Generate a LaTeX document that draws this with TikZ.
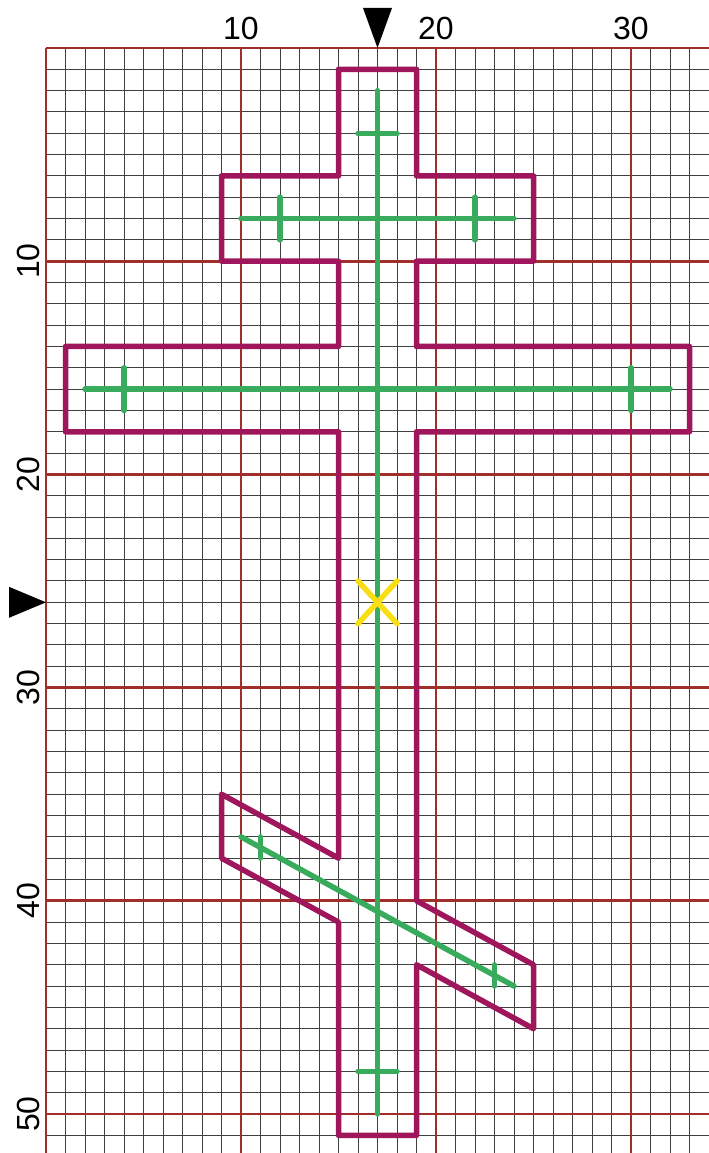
\documentclass[tikz,border=0pt]{standalone}
\usepackage{fontspec}
\setmainfont{Liberation Sans}
\definecolor{gridbrown}{RGB}{160,46,42}
\definecolor{crossmag}{RGB}{160,22,92}
\definecolor{axisgreen}{RGB}{56,172,92}
\definecolor{markyellow}{RGB}{250,222,20}
\begin{document}
\begin{tikzpicture}[x=19.5pt,y=-21.32pt,
  fineline/.style={draw=black!75,line width=1pt},
  majorline/.style={draw=gridbrown,line width=2.8pt},
  outline/.style={draw=crossmag,line width=5.5pt,line join=round,line cap=round},
  axisline/.style={draw=axisgreen,line width=5.5pt,line cap=round},
  xmark/.style={draw=markyellow,line width=5.5pt,line cap=round},
  lbl/.style={font=\fontsize{32}{32}\selectfont,inner sep=0pt,text=black}]
\useasboundingbox (-2.359,-2.251) rectangle (34.0,51.83);
\fill[white] (-2.359,-2.251) rectangle (34.0,51.83);
% fine grid
\foreach \i in {1,...,33} \draw[fineline] (\i,0) -- (\i,51.83);
\foreach \j in {1,...,51} \draw[fineline] (0,\j) -- (34,\j);
% major grid
\foreach \i in {0,10,20,30} \draw[majorline] (\i,0) -- (\i,51.83);
\foreach \j in {0,10,20,30,40,50} \draw[majorline] (0,\j) -- (34,\j);
% cross outline
\draw[outline] (15,1) -- (19,1) -- (19,6) -- (25,6) -- (25,10) -- (19,10) -- (19,14) -- (33,14) -- (33,18) -- (19,18) -- (19,40) -- (25,43) -- (25,46) -- (19,43) -- (19,51) -- (15,51) -- (15,41) -- (9,38) -- (9,35) -- (15,38) -- (15,18) -- (1,18) -- (1,14) -- (15,14) -- (15,10) -- (9,10) -- (9,6) -- (15,6) -- cycle;
% green axes
\draw[axisline] (17,2) -- (17,50);
\draw[axisline] (16,4) -- (18,4);
\draw[axisline] (10,8) -- (24,8);
\draw[axisline] (12,7) -- (12,9);
\draw[axisline] (22,7) -- (22,9);
\draw[axisline] (2,16) -- (32,16);
\draw[axisline] (4,15) -- (4,17);
\draw[axisline] (30,15) -- (30,17);
\draw[axisline] (10,37) -- (24,44);
\draw[axisline] (11,37) -- (11,38);
\draw[axisline] (23,43) -- (23,44);
\draw[axisline] (16,48) -- (18,48);
% yellow centre mark
\draw[xmark] (16,25) -- (18,27);
\draw[xmark] (16,27) -- (18,25);
% marker triangles
\coordinate (topmark) at (17,0);
\coordinate (leftmark) at (0,26);
\fill[black] (topmark) -- ++(-14.5pt,40pt) -- ++(29pt,0pt) -- cycle;
\fill[black] (leftmark) -- ++(-37pt,15.5pt) -- ++(0pt,-31pt) -- cycle;
% labels
\foreach \v in {10,20,30} \node[lbl] (top\v) at (\v,-0.938) {\v};
\foreach \v in {10,20,30,40,50} \node[lbl,rotate=90] (left\v) at (-0.923,\v) {\v};
\end{tikzpicture}
\end{document}
